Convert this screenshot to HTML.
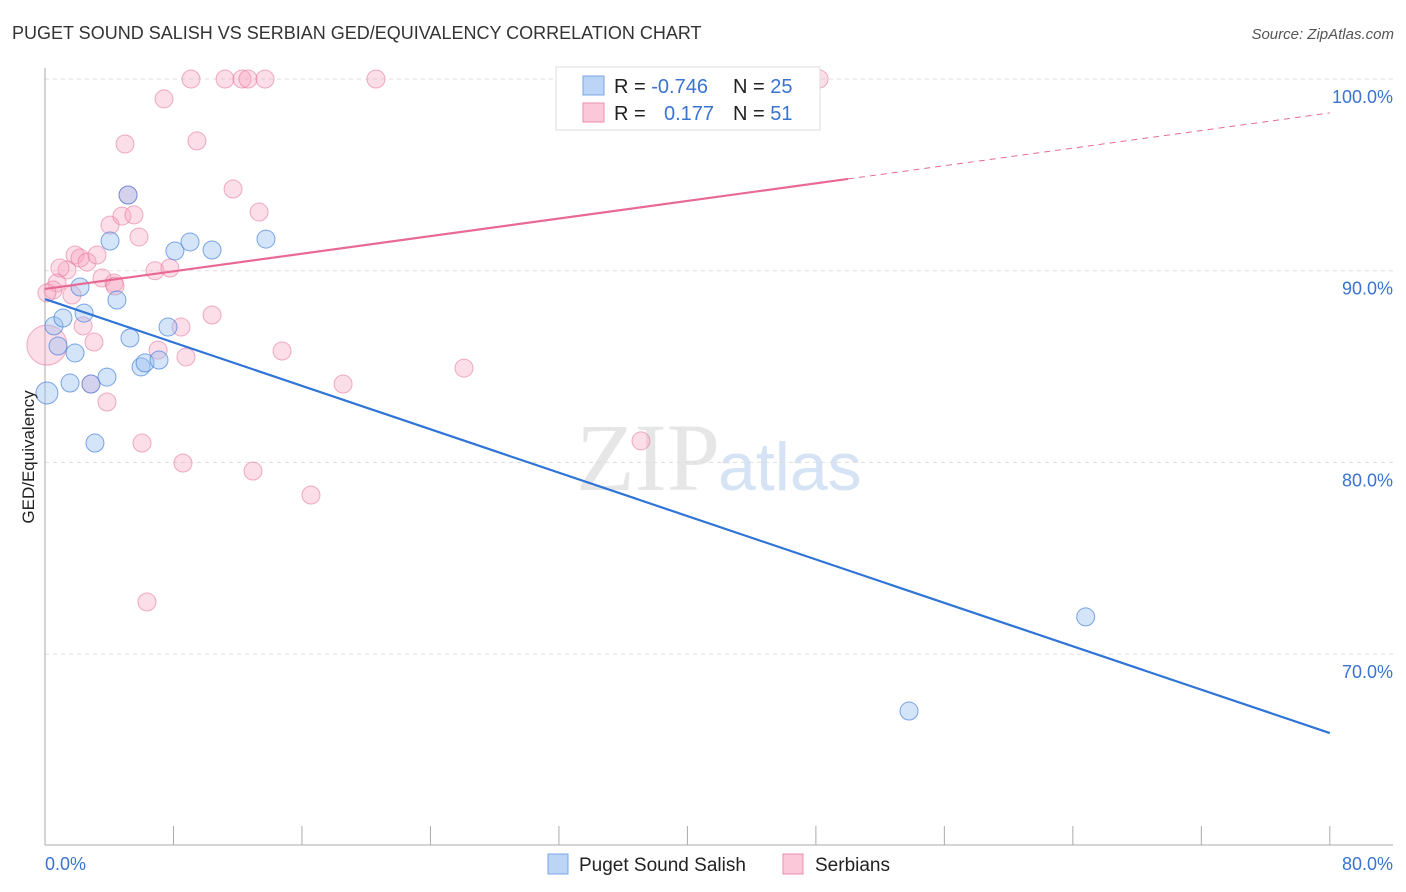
<!DOCTYPE html>
<html><head><meta charset="utf-8">
<style>
body{margin:0;background:#fff;font-family:"Liberation Sans",Arial,sans-serif;}
svg{display:block}
</style></head>
<body>
<svg id="chart" width="1406" height="892">
<text x="12" y="39" font-size="18" fill="#333">PUGET SOUND SALISH VS SERBIAN GED/EQUIVALENCY CORRELATION CHART</text>
<text x="1394" y="39" font-size="15" fill="#555" text-anchor="end" font-style="italic">Source: ZipAtlas.com</text>
<text x="720" y="490" font-size="96" fill="#e6e6e6" text-anchor="end" font-family="Liberation Serif,serif">ZIP</text>
<text x="718" y="490" font-size="68" fill="#d5e3f5">atlas</text>
<g id="grid"></g>
<g id="axes"></g>
<g id="points"></g>
<g id="trends"></g>
<text transform="translate(34,457) rotate(-90)" font-size="17" fill="#222" text-anchor="middle">GED/Equivalency</text>
<g>
<rect x="556" y="67" width="264" height="63" fill="#fff" stroke="#ddd"/>
<rect x="583" y="76" width="21" height="19" fill="#bcd4f5" stroke="#7aa6e6"/>
<rect x="583" y="103" width="21" height="19" fill="#fac8d8" stroke="#eb8fae"/>
<text x="614" y="93" font-size="20" fill="#222">R = <tspan fill="#3a73d0">-0.746</tspan></text>
<text x="733" y="93" font-size="20" fill="#222">N = <tspan fill="#3a73d0">25</tspan></text>
<text x="614" y="120" font-size="20" fill="#222">R = </text>
<text x="664" y="120" font-size="20" fill="#3a73d0">0.177</text>
<text x="733" y="120" font-size="20" fill="#222">N = <tspan fill="#3a73d0"> 51</tspan></text>
</g>
<g>
<rect x="548" y="854" width="20" height="20" fill="#bcd4f5" stroke="#7aa6e6"/>
<text x="579" y="871" font-size="19" fill="#222">Puget Sound Salish</text>
<rect x="783" y="854" width="20" height="20" fill="#fac8d8" stroke="#eb8fae"/>
<text x="815" y="871" font-size="19" fill="#222">Serbians</text>
</g>
</svg>
<script>
const blueX=[0.12,0.56,0.81,1.12,1.56,1.87,2.18,2.43,2.86,3.11,3.86,4.05,4.48,5.17,5.29,5.98,6.23,7.10,7.66,8.09,9.03,10.40,13.76,53.8,64.8];
const blueY=[83.62,87.12,86.07,87.53,84.14,85.71,89.15,87.79,84.09,81.01,84.45,91.55,88.47,93.95,86.49,84.98,85.19,85.34,87.06,91.03,91.50,91.08,91.65,67.03,71.94];
const pinkX=[9.09,11.21,12.27,12.64,13.70,20.61,37.30,48.20,7.41,4.98,9.46,11.71,5.17,13.33,4.05,4.79,5.54,5.85,1.87,1.37,0.93,2.18,2.62,3.24,3.55,6.85,7.78,4.30,4.36,0.75,0.50,1.68,0.12,10.40,2.37,3.05,8.47,7.04,8.78,14.76,26.09,18.56,2.86,3.86,37.11,6.04,8.59,12.95,16.56,6.35,0.12];
const pinkY=[100,100,100,100,100,100,100,100,98.96,96.61,96.77,94.26,93.95,93.06,92.38,92.85,92.91,91.76,90.82,90.04,90.14,90.66,90.45,90.82,89.62,90.0,90.14,89.36,89.20,89.36,88.99,88.73,88.84,87.69,87.12,86.28,87.06,85.86,85.50,85.81,84.92,84.09,84.09,83.15,81.12,81.01,79.97,79.55,78.30,72.72,86.12];
const yTicks=[100,90,80,70];
const yTickLabels=["100.0%","90.0%","80.0%","70.0%"];
const xTicks=[0,8,16,24,32,40,48,56,64,72,80];
const blueTrend=[88.52,65.88];
const pinkTrend=[89.05,98.23];
const pinkSolidEnd=50;

const NS="http://www.w3.org/2000/svg";
const sx=v=>45+v*16.06;
const sy=v=>79+(100-v)*19.17;
function mk(tag,attrs,parent){const e=document.createElementNS(NS,tag);for(const k in attrs)e.setAttribute(k,attrs[k]);parent.appendChild(e);return e;}
const grid=document.getElementById('grid'),axes=document.getElementById('axes'),pts=document.getElementById('points'),tr=document.getElementById('trends');
yTicks.forEach((t,i)=>{
 const l=mk('line',{x1:45,x2:1393,y1:sy(t),y2:sy(t),stroke:'#ddd','stroke-dasharray':'4,4'},grid);
 
 
 const tx=mk('text',{x:1393,y:sy(t)+24,'font-size':18,fill:'#3a73d0','text-anchor':'end'},grid);
 tx.textContent=yTickLabels[i];
 
 
});
const ya=mk('line',{x1:45,x2:45,y1:68,y2:845,stroke:'#aaa'},axes);


const xa=mk('line',{x1:45,x2:1393,y1:845,y2:845,stroke:'#aaa'},axes);


xTicks.forEach(t=>{
 const l=mk('line',{x1:sx(t),x2:sx(t),y1:826,y2:845,stroke:'#aaa'},axes);
 
 
});
const xl0=mk('text',{x:45,y:870,'font-size':18,fill:'#3a73d0'},axes);xl0.textContent='0.0%';


const xl1=mk('text',{x:1393,y:870,'font-size':18,fill:'#3a73d0','text-anchor':'end'},axes);xl1.textContent='80.0%';



pinkX.forEach((x,i)=>{
 const r=(i===pinkX.length-1)?20:9;
 const c=mk('circle',{cx:sx(x),cy:sy(pinkY[i]),r:r,fill:'rgba(245,160,190,0.35)',stroke:'rgba(230,120,160,0.6)','stroke-width':1},pts);
 
 
});
blueX.forEach((x,i)=>{
 const r=(i===0)?11:9;
 const c=mk('circle',{cx:sx(x),cy:sy(blueY[i]),r:r,fill:'rgba(150,190,240,0.4)',stroke:'rgba(70,130,220,0.7)','stroke-width':1},pts);
 
 
});
const bl=mk('line',{x1:sx(0),y1:sy(blueTrend[0]),x2:sx(80),y2:sy(blueTrend[1]),stroke:'#2f74d6','stroke-width':2.2},tr);


const pv=x=>pinkTrend[0]+(pinkTrend[1]-pinkTrend[0])*x/80;
const pl=mk('line',{x1:sx(0),y1:sy(pinkTrend[0]),x2:sx(pinkSolidEnd),y2:sy(pv(pinkSolidEnd)),stroke:'#e86a94','stroke-width':2.2},tr);


const pd=mk('line',{x1:sx(pinkSolidEnd),y1:sy(pv(pinkSolidEnd)),x2:sx(80),y2:sy(pinkTrend[1]),stroke:'#e86a94','stroke-width':1,'stroke-dasharray':'6,5'},tr);


</script>
</body></html>
